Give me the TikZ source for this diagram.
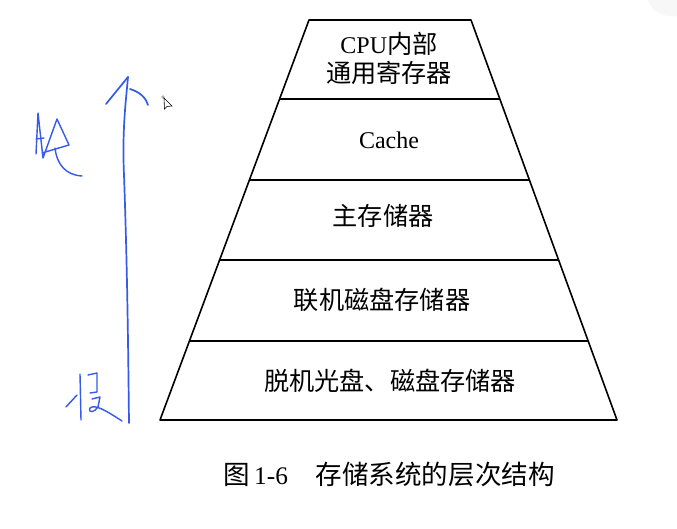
\documentclass[tikz,border=0pt]{standalone}
\usepackage{fontspec}
\setmainfont{Liberation Serif}
\newfontfamily\cjk[Scale=1.05]{Noto Sans CJK SC}
\definecolor{penblue}{RGB}{55,90,235}
\tikzset{
  edge/.style={draw=black, line width=1.6pt, line join=round},
  lvl/.style={font=\fontsize{24}{28}\selectfont, inner sep=0pt, anchor=center},
  pen/.style={draw=penblue, line width=1.7pt, line cap=round, line join=round},
}
\begin{document}
\begin{tikzpicture}[x=1pt,y=-1pt]
\useasboundingbox[fill=white] (0,0) rectangle (677,529);
% faint icon top right
\fill[gray!6] (648,0) -- (677,0) -- (677,16) .. controls (665,18) and (652,12) .. (648,0) -- cycle;
% pyramid corners
\coordinate (tl) at (309,20);
\coordinate (tr) at (471,20);
\coordinate (bl) at (160,420);
\coordinate (br) at (617,420);
\foreach \y/\n in {99/a,180/b,260/c,341/d}{
  \coordinate (l\n) at ({309-0.3725*(\y-20)},\y);
  \coordinate (r\n) at ({471+0.365*(\y-20)},\y);
}
\draw[edge] (tl) -- (tr) -- (br) -- (bl) -- cycle;
\draw[edge] (la) -- (ra);
\draw[edge] (lb) -- (rb);
\draw[edge] (lc) -- (rc);
\draw[edge] (ld) -- (rd);
% labels
\node[lvl] (t1) at (389,44) {CPU\cjk 内部};
\node[lvl] (t2) at (389,73) {\cjk 通用寄存器};
\node[lvl] (t3) at (389,140) {Cache};
\node[lvl] (t4) at (383,216) {\cjk 主存储器};
\node[lvl] (t5) at (382,300) {\cjk 联机磁盘存储器};
\node[lvl] (t6) at (390,381) {\cjk 脱机光盘、磁盘存储器};
\node[lvl,font=\fontsize{25.3}{29}\selectfont] (cap) at (389,474) {\cjk 图\,\rmfamily 1-6\hspace{1.1em}\cjk 存储系统的层次结构};
% handwritten arrow
\coordinate (abot) at (129,423);
\coordinate (atop) at (128,77);
\draw[pen] (abot) .. controls (128,330) and (127,260) .. (124,175) .. controls (122,130) and (126,100) .. (atop);
\draw[pen] (atop) -- (106,104);
\draw[pen] (130,89) .. controls (140,92) and (146,98) .. (148,105);
% handwritten 快
\draw[pen,line width=1.4pt] (36,154) -- (38,113) -- (43,158) -- (57,119) -- (69,145) -- (42,153);
\draw[pen,line width=1.4pt] (36,139) -- (44,138);
\draw[pen,line width=1.4pt] (55,148) .. controls (57,165) and (66,175) .. (82,176);
% handwritten 慢
\draw[pen,line width=1.4pt] (80,374) -- (81,420);
\draw[pen,line width=1.4pt] (66,407) -- (77,395);
\draw[pen,line width=1.4pt] (88,375) -- (97,373) -- (97,392) -- (90,393);
\draw[pen,line width=1.4pt] (92,399) -- (100,397) -- (98,407) .. controls (95,412) and (88,414) .. (90,408) .. controls (95,404) and (105,410) .. (122,421);
% mouse cursor
\fill[gray!60] (163,97) circle (1.8);
\draw[black, line width=0.6pt, fill=white] (164,98) -- (164.5,109) -- (167,106.5) -- (172,106) -- cycle;
\end{tikzpicture}
\end{document}
